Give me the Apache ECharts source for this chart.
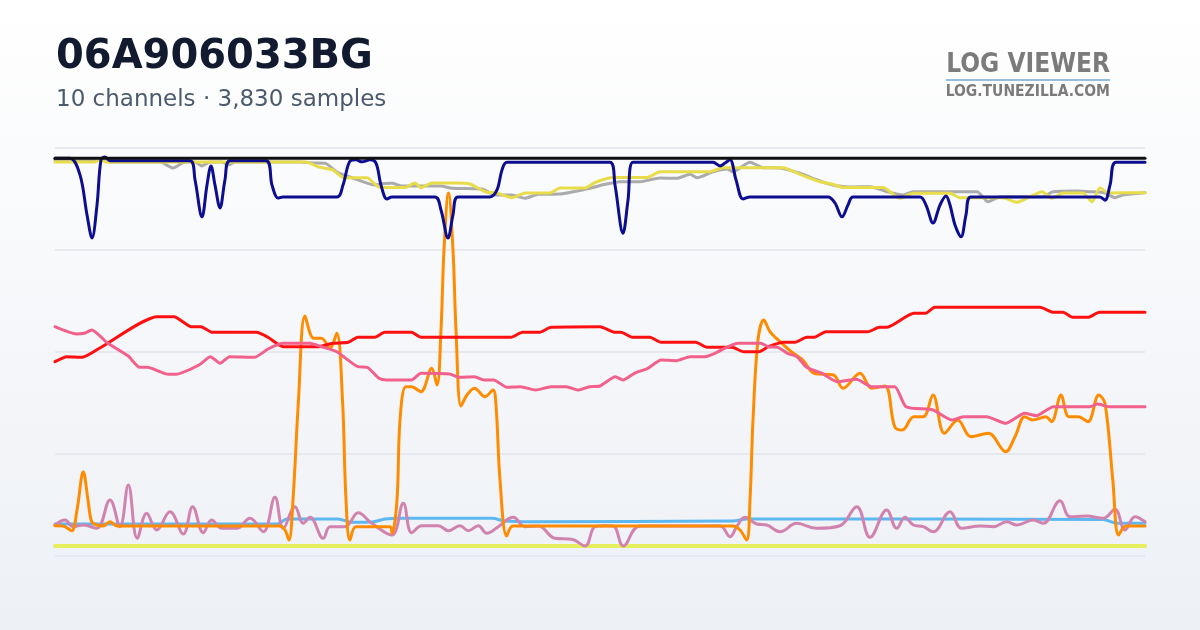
<!DOCTYPE html>
<html>
<head>
<meta charset="utf-8">
<script src="https://cdn.jsdelivr.net/npm/echarts@6/dist/echarts.min.js"></script>
<style>
html,body{margin:0;padding:0;width:1200px;height:630px;overflow:hidden;}
#chart{width:1200px;height:630px;}
</style>
</head>
<body>
<div id="chart"></div>
<script>
// Title texts
var titleText = '06A906033BG';
var subtitleText = '10 channels · 3,830 samples';
var logoText = 'LOG VIEWER';
var logoSub = 'LOG.TUNEZILLA.COM';

// x = position along the log (0..109), y = normalised channel value (0..100)
var blackData = [[0,97.5],[109,97.5]];

var navyData = [[0,97.5],[1.5,97.5],[2.5,93.4],[3.2,83.6],[3.7,77.9],[4.2,86],[4.6,97.1],[5,97.8],[5.5,96.9],[13.5,96.9],[14,92.2],[14.7,83.1],[15.2,90.9],[15.6,95.6],[16,90.9],[16.5,85.3],[17,92.2],[17.5,96.9],[21.1,96.9],[21.7,90.9],[22.3,87.7],[22.8,88],[28.2,88],[28.8,90.9],[29.5,96.8],[30.1,97.1],[30.7,96.6],[31.5,97.1],[32.1,96.3],[32.6,90.9],[33.2,87.5],[33.7,88],[38,88],[38.6,84.8],[39.3,77.9],[39.8,83.6],[40.3,88],[43.5,88],[44.2,89.7],[44.7,94.6],[45.2,96.5],[55.5,96.5],[56,90.9],[56.8,79.1],[57.3,87.2],[57.8,96.5],[65.8,96.5],[66.5,95.6],[67,96.3],[67.5,97.1],[68.1,92.2],[68.8,87.5],[69.5,88],[77.3,88],[78,86.5],[78.7,83.1],[79.3,86],[79.8,88],[86.5,88],[87.1,86],[87.8,81.6],[88.5,86],[89.1,88.2],[89.5,86],[90,81.1],[90.6,78.2],[91.1,83.6],[91.6,88],[104.5,88],[105,87.2],[105.5,90.9],[106.1,96.5],[109,96.5]];

var grayData = [[0,97.06],[4.5,97.06],[5.5,96.56],[10.5,96.56],[11.8,95.09],[13,96.56],[14,96.56],[14.7,95.58],[15.5,96.56],[16.7,96.56],[17.3,95.83],[18,96.56],[24.5,96.56],[26,96.32],[27,96.25],[28.2,94.11],[29.7,92.71],[32,90.92],[32.8,91.29],[33.7,91.34],[34.7,90.67],[38.6,90.67],[39.7,90.11],[42.7,89.94],[44,88.47],[45.7,88.47],[47,87.66],[48.3,88.64],[50.5,88.71],[53.7,90.26],[55,91.09],[56.5,91.73],[58.5,91.73],[60.5,92.64],[62.2,92.56],[63.5,93.55],[64.2,92.71],[65.8,94.18],[67.2,94.85],[67.8,94.18],[69.5,96.49],[70.8,95.17],[72.5,95.09],[74.5,93.79],[75.8,92.56],[76.7,91.73],[78,90.8],[79.5,90.43],[81.5,90.5],[83.2,89.28],[84.8,88.47],[85.8,89.28],[92.2,89.28],[93.3,86.82],[94.5,88.05],[98.8,88.05],[99.8,89.28],[102.2,89.45],[103.5,89.28],[105,88.96],[106,87.8],[106.8,88.47],[109,89.03]];

var yellowData = [[0,96.56],[4,96.56],[4.5,97.3],[5.1,96.56],[25.1,96.56],[26.3,95.41],[27.8,94.6],[28.9,92.7],[31.2,92.7],[32.4,90.43],[35,90.3],[36,91.41],[36.6,90.26],[37.7,91.41],[40,91.41],[41.5,91.17],[43.1,89.2],[44.2,88.96],[45.7,87.8],[47,88.96],[49.5,88.96],[50.5,90.18],[53,90.18],[54,91.53],[55.8,92.76],[59.2,92.76],[60.5,94.18],[65.5,94.18],[66.8,95.17],[72.8,95.17],[74.5,93.55],[76.5,91.73],[77.8,91.09],[78.8,90.3],[82.8,90.3],[84.5,87.66],[85.8,88.88],[89.5,88.88],[90.5,87.8],[94.8,87.8],[96.2,86.67],[97.5,88.05],[98.7,89.28],[99.7,87.66],[100.8,88.96],[102.8,88.96],[103.7,86.75],[104.5,90.26],[105.3,88.96],[109,89.03]];

var redData = [[0,47.56],[1.2,48.79],[2.73,48.64],[4.45,50.85],[10.2,58.6],[11.9,58.6],[13.64,56.15],[14.6,56.15],[15.74,54.77],[20.14,54.77],[21.3,53.55],[22.82,51.24],[26.26,51.24],[27.8,52.07],[29.33,52.32],[30.28,53.55],[32,53.55],[32.96,54.77],[35.64,54.77],[36.6,53.55],[45.6,53.55],[46.74,54.77],[48.46,54.77],[49.6,56],[54.5,56.15],[56.03,54.77],[56.6,54.77],[57.75,53.55],[59.48,53.55],[60.6,52.32],[64.07,52.32],[65.2,51.09],[67.7,51.09],[68.85,50.01],[70.38,50.01],[71.34,51.24],[72.87,52.32],[74,52.32],[75.17,53.55],[75.93,53.55],[77.08,54.92],[81.29,54.92],[82.44,56],[83.2,56],[85.88,59.44],[87.03,59.44],[87.99,60.91],[98.5,60.91],[99.85,59.68],[100.8,59.68],[101.76,58.45],[103.3,58.45],[104.44,59.68],[109,59.68]];

var pinkData = [[0,56.15],[2.15,54.36],[2.92,54.53],[3.68,55.34],[5.22,52.22],[7.32,48.96],[8.47,46.18],[9.23,46.18],[11.34,44.47],[12.1,44.47],[14.4,46.75],[15.55,48.79],[16.5,47.17],[17.46,48.79],[19.95,48.64],[21.3,50.67],[22.82,52.07],[25.5,52.07],[26.65,51.24],[28.18,50.01],[30.28,46.33],[31.24,46.18],[32.39,43.48],[33.15,43.07],[35.64,43.07],[36.6,44.71],[39.47,44.54],[40.42,43.73],[41.95,43.88],[42.9,43.07],[43.87,43.07],[45.2,41.28],[46.55,41.42],[48.08,40.61],[49.6,41.42],[51.14,41.42],[52.3,40.61],[53.44,41.42],[54.5,41.6],[56.03,43.88],[56.8,43.07],[57.94,44.71],[59.28,45.94],[60.62,47.98],[62.15,47.8],[63.5,48.79],[65.02,48.79],[65.98,49.62],[68.28,52.07],[70.57,52.07],[71.34,51.24],[72.3,51.09],[73.25,49.62],[74.2,48.79],[75.17,46.18],[76.7,44.71],[78.23,42.65],[80.14,43.24],[81.67,41.42],[83.97,41.42],[85.1,36.52],[87.8,35.71],[89.7,33.25],[90.86,34.06],[93.15,34.06],[95.07,32.44],[96.98,34.9],[98.13,34.31],[99.85,36.52],[103.49,36.52],[104.25,37.18],[105.4,36.52],[109,36.52]];

var orangeData = [[0,7.31],[0.8,7.24],[1.67,6.09],[2.2,11.17],[2.83,20.56],[3.3,13.62],[3.67,8.29],[4.2,7.48],[4.8,7.24],[5.5,8.29],[6.2,7.24],[22.5,7.24],[23,6.26],[23.4,3.8],[23.8,13.62],[24.35,38.16],[25,58.77],[25.88,53.3],[26.65,53.3],[27.5,50.85],[28.18,54.53],[28.75,38.16],[29.1,13.62],[29.5,3.8],[30.1,7.07],[33.5,7.07],[33.7,5.45],[34.2,13.62],[34.5,33.25],[35.07,41.42],[35.64,41.42],[36.6,40.2],[37.67,45.94],[38.2,41.84],[38.6,55.34],[38.9,74.97],[39.35,88.96],[39.8,74.97],[40.1,55.34],[40.6,36.69],[41.2,39.39],[41.95,41.03],[43,38.97],[43.8,40.61],[44.1,36.93],[44.5,18.53],[45.17,4.79],[45.8,7.24],[67.8,7.24],[68.5,6.26],[69.17,3.8],[69.5,13.62],[69.8,33.25],[70.3,52.88],[70.88,57.79],[71.5,54.92],[72.5,52.47],[73.63,50.01],[74.78,47.98],[75.9,44.71],[77.85,44.29],[78.8,41.03],[80.5,44.71],[81.67,41.03],[83,41.6],[83.97,31.61],[84.73,30.8],[85.88,34.06],[86.84,34.06],[87.8,39.39],[88.94,29.99],[90.28,33.25],[91.6,29.15],[93.34,29.99],[95.07,25.47],[96,29.15],[96.98,34.06],[97.75,33.25],[99.08,34.06],[99.66,32.83],[100.6,39.39],[101.38,34.06],[102.34,34.06],[103.3,32.83],[104.37,39.39],[105,37.35],[105.78,18.53],[106.36,5.03],[107.1,7.24],[109,7.24]];

var mauveData = [[0,7.48],[1,8.71],[1.83,7.07],[2.83,7.48],[4.17,6.67],[5.5,13.62],[6.5,7.07],[7.33,17.3],[8.23,4.22],[9.17,10.36],[10.17,6.26],[11.5,10.75],[12.83,5.28],[13.77,11.98],[14.83,5.6],[15.67,8.71],[16.67,6.67],[18.17,6.67],[19.5,9.13],[20.83,5.84],[22,14.28],[22.83,6.67],[24,11.98],[24.83,7.9],[25.5,9.37],[26.83,4.22],[27.5,7.07],[29,7.07],[30.33,10.5],[31.67,7.9],[33.67,5.03],[34.83,12.81],[35.67,5.6],[36.67,7.31],[38.33,7.31],[39.33,6.09],[40.5,7.31],[41.33,6.09],[42.33,7.31],[43.17,5.45],[44.33,7.07],[45.83,9.37],[47,7.07],[48.33,7.24],[50,4.22],[51.67,3.98],[53,2.33],[54,7.07],[55,7.31],[55.83,7.24],[56.83,2.33],[58.5,7.24],[66.5,7.24],[67.5,4.61],[68.17,7.07],[69,9.37],[70.17,7.73],[71.17,7.48],[72.5,5.84],[74.17,7.9],[76.17,6.67],[78.5,7.31],[80.17,11.98],[81.5,4.47],[83.17,11.17],[84.17,6.67],[85,9.37],[85.83,7.48],[86.83,7.07],[87.83,5.84],[89.5,10.75],[90.67,6.67],[92.5,7.24],[93.83,7.07],[95.17,8.29],[96.17,7.48],[97.83,8.71],[98.83,7.9],[100.5,13.45],[101.5,9.52],[103.17,9.69],[104.83,9.13],[106,11.34],[107,6.26],[108,9.52],[109,8.29]];

var blueData = [[0,7.73],[22.2,7.73],[23.2,8.96],[28.3,8.96],[29.7,8.15],[31.7,8.22],[33,8.96],[35,9.13],[43.7,9.13],[45,8.47],[47.7,8.3],[67.8,8.47],[69.2,8.96],[104.8,8.84],[106.2,7.9],[109,7.9]];

var limeData = [[0,2.33],[109,2.33]];

var chart = echarts.init(document.getElementById('chart'), null, {renderer: 'canvas'});

function line(name, data, color, width, smooth, z) {
  return {
    name: name, type: 'line', data: data, symbol: 'none', smooth: smooth,
    lineStyle: {color: color, width: width, cap: 'round', join: 'round'},
    z: z, animation: false
  };
}

var option = {
  animation: false,
  backgroundColor: new echarts.graphic.LinearGradient(0, 0, 0, 1, [
    {offset: 0, color: '#ffffff'}, {offset: 1, color: '#edf0f5'}
  ]),
  grid: {left: 55, right: 55, top: 148, bottom: 74.5},
  xAxis: {type: 'value', min: 0, max: 109, show: false},
  yAxis: {
    type: 'value', min: 0, max: 100, interval: 25,
    axisLabel: {show: false}, axisLine: {show: false}, axisTick: {show: false},
    splitLine: {lineStyle: {color: '#e2e5eb', width: 1.5}}
  },
  graphic: [
    {type: 'text', left: 56, top: 38, style: {text: titleText, font: 'bold 40px "DejaVu Sans"', fill: '#111a2e'}},
    {type: 'text', left: 56, top: 89, style: {text: subtitleText, font: '23px "DejaVu Sans"', fill: '#4b5a6d'}},
    {type: 'text', right: 90, top: 52, style: {text: logoText, font: 'bold 26px "DejaVu Sans Condensed", "DejaVu Sans"', fill: '#7b7b7b'}},
    {type: 'rect', shape: {x: 946, y: 79, width: 164, height: 2}, style: {fill: '#93bfe0'}},
    {type: 'text', right: 90, top: 84, style: {text: logoSub, font: 'bold 15.5px "DejaVu Sans Condensed", "DejaVu Sans"', fill: '#7b7b7b'}}
  ],
  series: [
    line('Lime', limeData, '#e6f05c', 4, false, 2),
    line('Blue', blueData, '#5db8f1', 3, 0.3, 3),
    line('Mauve', mauveData, '#d183b0', 3, 0.4, 4),
    line('Orange', orangeData, '#ff8c00', 3, 0.35, 5),
    line('Red', redData, '#ff1010', 3, 0.2, 6),
    line('Pink', pinkData, '#f2608c', 3, 0.2, 7),
    line('Gray', grayData, '#ababab', 3, 0.2, 8),
    line('Yellow', yellowData, '#e8dc4a', 3, 0.2, 9),
    line('Navy', navyData, '#0d0d8f', 3, 0.35, 10),
    line('Black', blackData, '#111111', 3, false, 11)
  ]
};
chart.setOption(option);
</script>
</body>
</html>
